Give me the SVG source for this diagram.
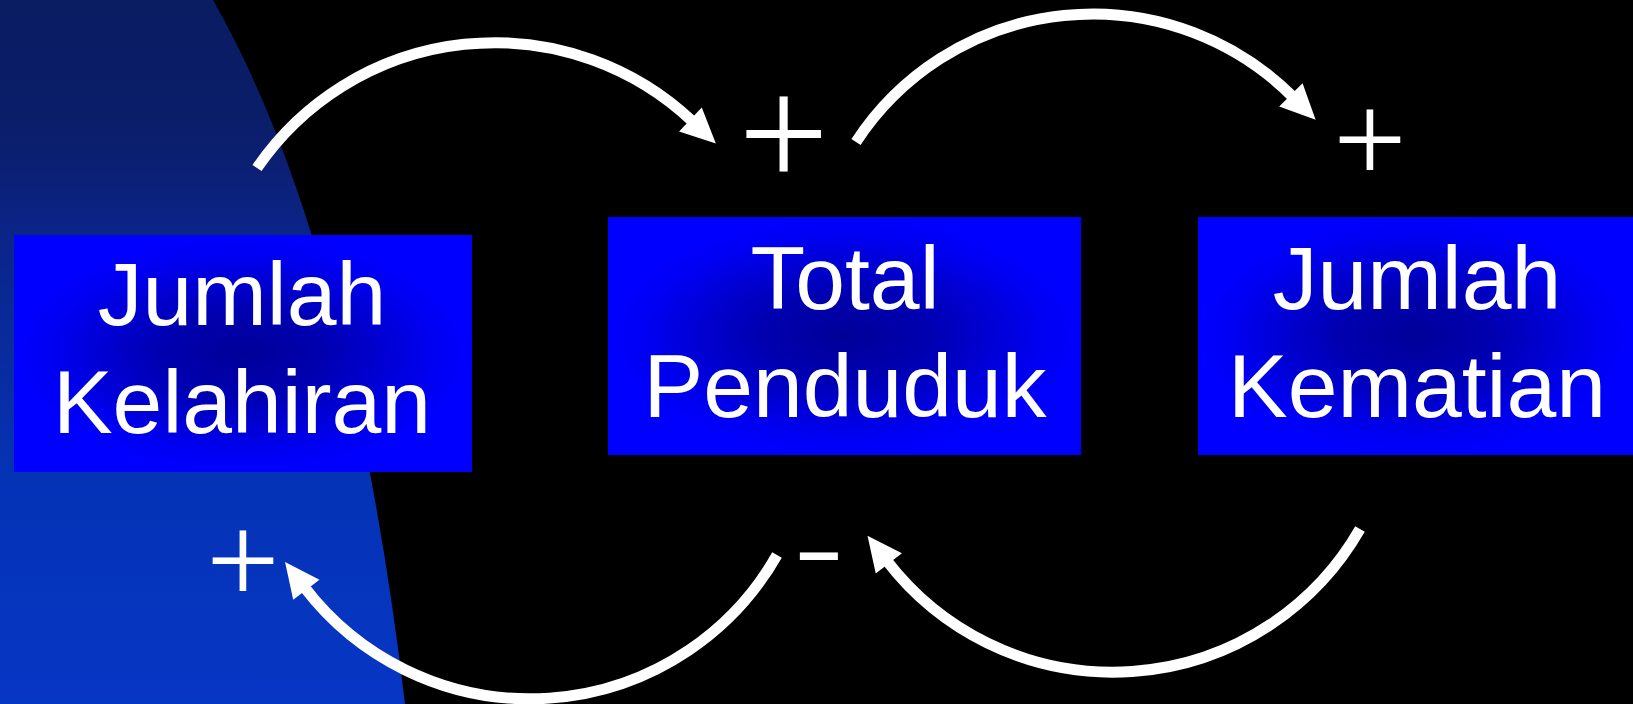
<svg xmlns="http://www.w3.org/2000/svg" width="1633" height="704" viewBox="0 0 1633 704">
  <defs>
    <linearGradient id="bgBlue" x1="0" y1="0" x2="0" y2="1">
      <stop offset="0" stop-color="#0a1c62"/>
      <stop offset="0.16" stop-color="#0a1d68"/>
      <stop offset="0.25" stop-color="#0b2076"/>
      <stop offset="0.33" stop-color="#0b2488"/>
      <stop offset="0.68" stop-color="#0533b6"/>
      <stop offset="1" stop-color="#0636c4"/>
    </linearGradient>
    <radialGradient id="boxFill" cx="0.5" cy="0.5" r="0.5">
      <stop offset="0" stop-color="#000098"/>
      <stop offset="0.35" stop-color="#0000b0"/>
      <stop offset="0.65" stop-color="#0000d8"/>
      <stop offset="0.85" stop-color="#0000f4"/>
      <stop offset="1" stop-color="#0000ff"/>
    </radialGradient>
    <marker id="ah" markerUnits="userSpaceOnUse" markerWidth="40" markerHeight="36" viewBox="-4 -18 40 36" refX="0" refY="0" orient="auto" overflow="visible">
      <path d="M-3,-16.5 L32,0 L-3,16.5 Z" fill="#ffffff"/>
    </marker>
  </defs>
  <style>
    .box { fill: url(#boxFill); }
    .lbl { font-family: "Liberation Sans", Arial, sans-serif; font-size: 89.5px; fill: #ffffff; text-anchor: middle; }
    .link { fill: none; stroke: #ffffff; stroke-width: 11; marker-end: url(#ah); }
    .pol { font-family: "Liberation Serif", "Times New Roman", serif; fill: #ffffff; text-anchor: middle; }
    .neg { font-family: "Liberation Sans", Arial, sans-serif; fill: #ffffff; text-anchor: middle; font-size: 96px; }
  </style>

  <rect x="0" y="0" width="1633" height="704" fill="#000000"/>
  <path d="M0,0 L213,0 Q350,240 405,704 L0,704 Z" fill="url(#bgBlue)"/>

  <g id="node-kelahiran">
    <rect class="box" x="14" y="235" width="458" height="237"/>
    <text class="lbl" x="242" y="325">Jumlah</text>
    <text class="lbl" x="242" y="433">Kelahiran</text>
  </g>

  <g id="node-total">
    <rect class="box" x="608" y="217" width="473" height="238"/>
    <text class="lbl" x="845" y="309">Total</text>
    <text class="lbl" x="845" y="417">Penduduk</text>
  </g>

  <g id="node-kematian">
    <rect class="box" x="1198" y="217" width="435" height="238"/>
    <text class="lbl" x="1417" y="309">Jumlah</text>
    <text class="lbl" x="1417" y="417">Kematian</text>
  </g>

  <g id="connectors">
    <path class="link" d="M257,168 A288,288 0 0,1 692.6,121.5"/>
    <path class="link" d="M856,142 A283,283 0 0,1 1293,97"/>
    <path class="link" d="M1360,529 A285,285 0 0,1 887,561"/>
    <path class="link" d="M777,555 A284,284 0 0,1 304.5,587.4"/>
  </g>

  <g id="polarity">
    <text class="pol" x="783.5" y="188" font-size="160">+</text>
    <text class="pol" x="1370" y="183" font-size="130">+</text>
    <text class="pol" x="243" y="604" font-size="130">+</text>
    <text class="neg" transform="translate(819,582) scale(1.62,1)" x="0" y="0">-</text>
  </g>
</svg>
